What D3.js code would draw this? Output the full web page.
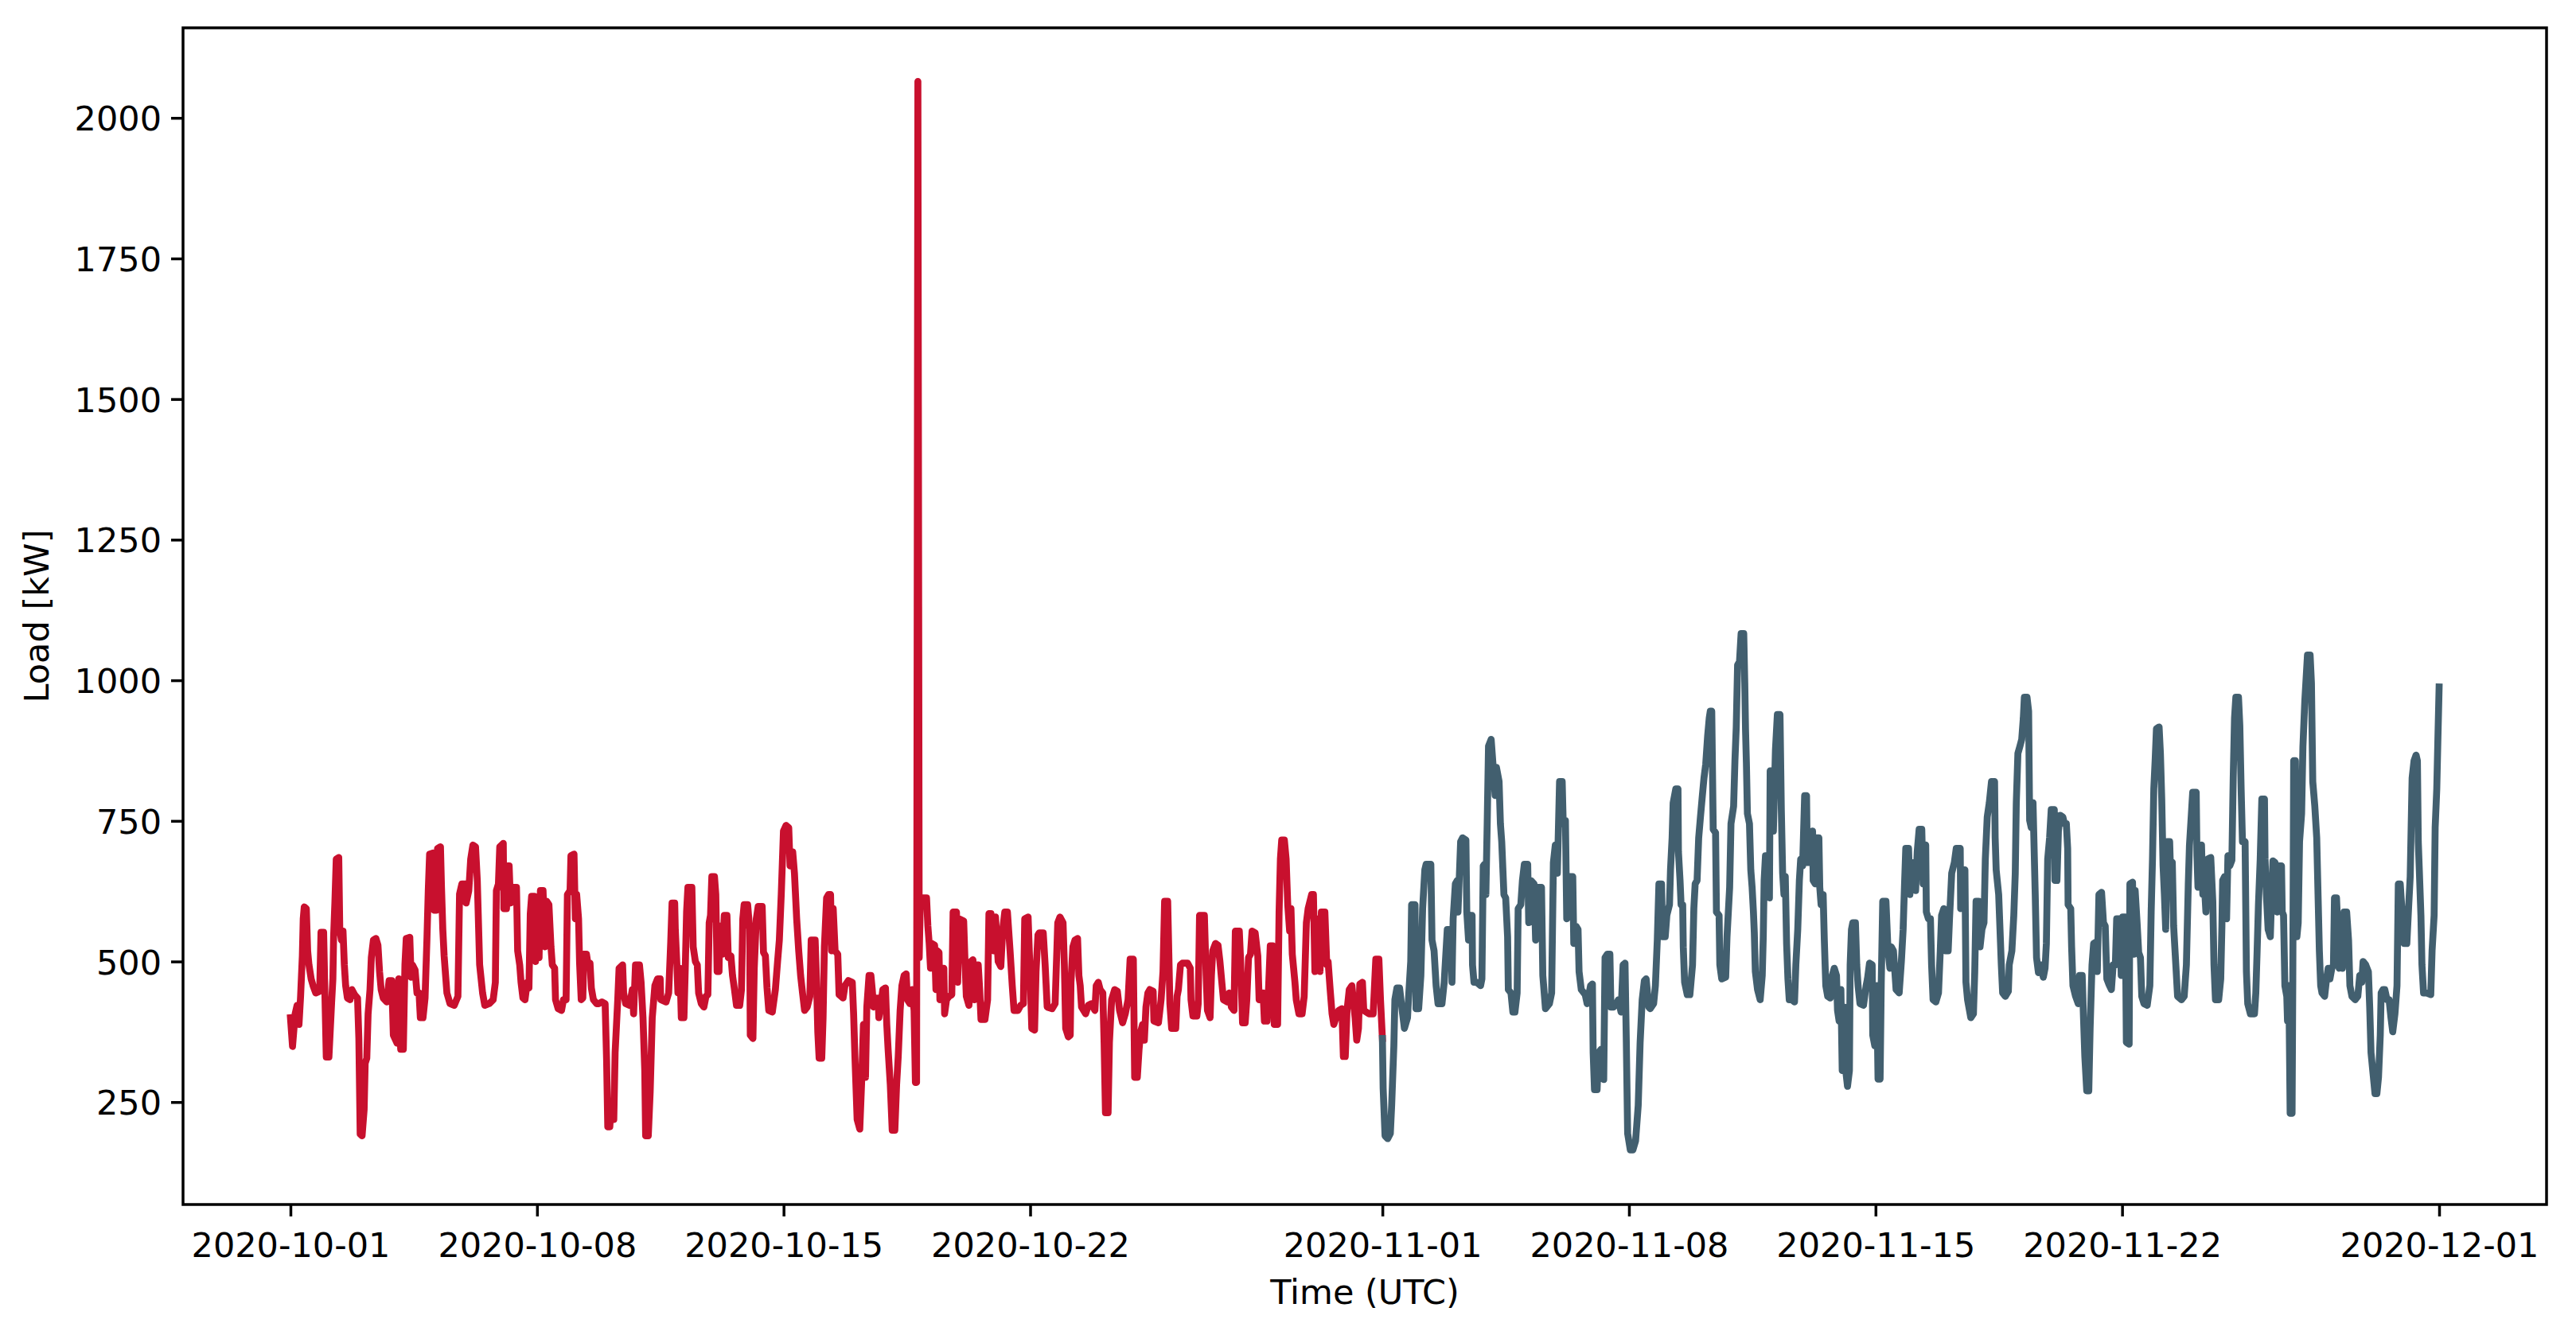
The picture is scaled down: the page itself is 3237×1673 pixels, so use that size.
<!DOCTYPE html>
<html><head><meta charset="utf-8">
<script src="https://cdn.jsdelivr.net/npm/d3@7"></script>
<style>
body{margin:0;background:#fff}
svg text{font-family:"DejaVu Sans",sans-serif;fill:#000}
</style>
</head><body>
<svg id="chart" width="3237" height="1673"></svg>
<script>
// Hours since 2020-10-01T00:00Z and load [kW]
const octHours = [0,1.4,3.2,4.5,5.8,6.9,8.1,8.7,9.4,10.8,11.7,12.6,14.1,15.4,17.2,19.9,20.8,22.6,23.5,24.4,26.2,28.0,28.9,29.4,30.3,31.2,32.9,33.6,34.7,35.8,36.7,37.6,38.8,40.6,41.9,43.7,45.7,46.6,47.5,48.8,50.2,50.9,52.0,52.9,54.2,55.1,56.5,58.2,59.6,60.7,61.8,63.2,65.6,67.2,69.0,70.1,72.6,73.7,75.1,76.9,78.0,78.9,81.3,82.2,83.1,84.9,86.2,87.6,88.5,90.3,91.7,93.0,93.9,94.8,97.2,97.9,99.3,100.2,102.2,102.9,103.8,104.7,106.6,108.7,111.6,114.1,115.2,116.8,119.2,119.7,121.5,122.8,124.3,126.1,127.3,128.9,130.9,132.4,135.4,138.1,139.6,140.3,141.7,142.6,145.0,145.4,147.2,148.1,149.0,149.9,151.7,154.0,154.8,156.2,157.1,158.4,159.8,161.3,162.5,163.4,164.3,166.1,167.0,168.5,169.4,170.3,172.1,173.4,174.6,176.1,177.5,178.4,180.0,180.6,182.4,184.7,186.0,187.8,188.7,190.5,191.1,193.2,194.1,195.0,196.3,197.0,198.1,199.2,199.9,201.7,202.8,204.1,205.0,206.4,208.6,210.0,212.2,214.4,215.4,216.2,217.6,218.5,220.3,221.2,223.0,223.9,226.3,227.0,228.4,231.1,232.9,233.8,235.1,237.8,238.9,240.2,241.4,242.0,243.8,245.1,246.5,248.3,250.1,251.9,252.3,255.9,257.7,259.1,260.0,261.8,262.2,263.3,264.0,265.4,266.3,268.1,269.0,269.9,270.8,273.5,274.4,275.9,277.2,278.1,279.9,281.7,283.1,284.4,285.3,286.2,287.1,288.9,289.8,290.7,292.0,292.5,294.3,295.6,297.4,298.3,300.1,301.2,302.4,303.9,306.1,307.3,308.2,309.1,311.5,312.9,313.3,315.1,316.0,317.4,318.7,321.4,322.3,323.6,324.7,325.9,328.3,330.4,331.9,333.1,334.4,335.9,337.7,339.5,340.4,342.2,343.4,344.9,346.3,347.6,348.9,350.3,352.1,353.9,354.8,357.5,358.4,359.3,360.2,362.0,362.9,363.8,365.3,366.6,368.0,368.7,369.8,371.1,372.9,373.8,376.5,377.8,380.1,382.8,383.7,384.6,386.1,387.9,389.1,390.4,391.8,392.7,394.2,395.5,396.4,397.3,399.1,400.4,400.9,402.7,403.6,405.4,406.3,407.2,408.7,410.0,411.8,413.0,414.1,415.4,416.6,418.1,419.5,420.4,422.1,423.5,424.9,425.8,426.6,427.5,428.4,429.2,433.4,434.3,435.2,436.1,437.0,438.9,439.8,440.7,441.9,442.5,443.7,445.2,445.7,447.0,448.8,450.6,451.5,453.8,454.6,455.6,458.7,459.6,460.5,462.3,463.6,465.0,465.9,467.8,468.6,469.6,470.5,473.2,475.0,475.9,477.3,479.1,480.4,482.2,484.0,485.3,486.7,488.5,490.3,491.8,493.0,495.7,497.5,499.4,500.3,502.6,503.9,505.1,507.0,508.0,509.3,510.2,512.9,514.2,515.6,518.9,521.0,522.8,524.3,526.4,527.3,528.2,530.0,531.3,531.8,533.1,534.5,536.3,537.2,538.1,539.0,541.8,543.6,545.7,548.1,549.0,550.4,551.7,553.5,554.4,555.3,557.1,558.0,559.5,561.6,563.4,564.9,567.0,568.8,570.7,572.1,574.3,575.2,577.0,578.2,579.3,580.6,581.8,582.9,584.2,585.5,587.8,588.3,591.4,593.2,594.5,595.6,597.7,599.2,600.4,603.2,604.1,605.0,606.4,607.7,611.3,613.1,613.6,614.9,617.6,618.5,619.4,622.7,623.9,624.8,626.6,627.5,628.4,630.3,632.0,633.3,634.8,635.7,638.4,639.6,641.1,642.9,643.8,646.5,647.4,648.7,650.5,651.6,652.8,654.1,655.2,657.3,659.1,660.0,661.5,662.7,663.6,665.4,666.3,667.6,669.4,670.3,672.6,673.6,674.5,675.4,677.2,678.4,679.5,680.8,681.7,682.6,684.4,685.3,687.1,689.3,690.7,692.2,693.4,695.8,697.0,698.0,700.1,701.5,702.4,704.8,706.1,707.0,708.4,709.7,710.9,712.4,714.2,716.4,717.4,718.7,719.9,721.4,723.2,725.4,726.5,727.7,728.6,730.4,731.3,734.9,737.7,739.5,741.6,742.7,744.0];
const octLoad = [400,349,407,422,388,438,510,576,597,594,519,494,469,457,444,447,552,552,438,330,330,425,469,544,607,682,685,557,538,554,494,457,435,432,450,441,435,363,193,190,237,319,328,407,450,507,538,541,529,482,450,435,428,466,466,369,355,469,344,344,494,541,543,472,494,485,444,444,400,400,435,541,626,691,693,591,591,701,704,632,557,510,444,425,422,438,620,638,638,604,626,682,707,704,644,494,444,422,425,432,463,626,638,704,710,594,594,670,670,604,632,632,519,494,463,435,432,463,453,585,616,616,500,557,507,626,626,526,607,601,526,494,488,432,416,413,432,432,619,626,688,691,576,619,576,497,432,435,513,513,494,497,453,432,425,425,428,425,325,206,206,250,219,338,432,488,494,444,425,422,450,407,494,494,463,400,306,190,190,269,400,457,469,469,432,428,444,535,604,604,557,494,444,488,400,400,488,588,632,632,526,500,494,444,425,419,438,441,569,582,651,651,619,482,482,563,513,582,582,507,510,475,453,422,422,450,576,601,601,557,369,363,488,576,598,598,516,510,453,413,410,450,500,538,619,732,742,738,670,695,657,576,519,475,444,413,419,438,538,538,469,375,328,328,400,526,613,619,619,519,594,519,513,441,435,457,466,463,407,331,219,202,281,388,294,419,475,475,450,419,435,435,400,432,450,453,388,344,281,200,200,281,331,413,457,475,478,432,425,450,413,285,285,2065,507,613,613,563,532,488,532,529,450,519,516,432,488,488,407,432,438,441,588,588,463,576,572,500,438,422,500,503,432,494,494,450,397,397,432,585,585,519,579,500,491,557,588,588,519,457,413,413,422,425,576,579,482,381,378,482,547,551,551,494,419,416,425,569,579,569,494,381,366,369,463,526,538,541,475,457,419,407,422,425,413,457,463,450,444,353,231,231,356,432,450,447,413,391,407,432,504,504,294,294,344,375,388,360,419,444,450,447,394,391,432,482,607,607,425,381,381,438,450,494,497,497,488,432,403,403,425,582,582,475,413,400,475,519,532,529,500,457,432,428,444,419,413,554,554,500,391,391,432,507,513,554,551,510,432,444,444,394,394,444,528,528,388,388,588,682,716,716,682,601,554,594,513,463,432,407,407,438,569,594,619,619,482,576,482,588,588,494,500,450,407,388,400,413,416,331,331,413,450,457,400,360,381,460,463,413,407,407,504,504,432,363];
const novHours = [744.0,744.5,745.8,747.6,749.4,750.3,751.8,752.5,753.9,755.7,757.2,759.0,761.1,762.0,763.3,763.9,766.2,766.9,768.7,770.2,771.4,772.9,773.8,777.0,777.8,779.2,780.6,781.9,784.6,786.1,788.2,790.9,791.4,792.2,793.7,795.0,795.5,797.3,798.6,800.9,801.5,802.7,803.6,805.1,805.4,806.4,808.2,810.9,811.8,812.7,813.6,814.5,815.4,816.3,818.1,819.5,820.8,821.7,823.5,824.4,825.3,826.8,828.0,829.3,829.8,831.6,832.9,834.3,835.8,836.5,838.3,839.4,840.7,843.0,843.7,845.2,847.3,848.4,849.7,852.4,853.3,855.1,857.8,859.3,860.5,861.8,863.2,864.7,866.5,867.2,868.7,869.6,870.8,871.9,873.7,874.4,875.9,877.3,878.0,879.5,882.2,883.5,884.9,885.8,887.1,887.6,888.5,890.3,891.2,893.0,894.8,895.7,897.2,899.0,899.7,901.5,903.3,904.8,906.6,908.0,909.3,910.2,911.1,912.9,914.7,916.5,918.3,919.6,921.0,922.5,923.7,925.5,926.4,928.8,930.0,931.3,932.4,934.2,934.9,936.7,937.8,939.6,940.3,941.4,942.1,943.9,945.4,945.7,946.8,947.5,948.6,949.0,949.9,951.7,953.5,955.3,956.2,957.1,958.4,959.5,960.7,962.0,963.1,964.3,965.6,966.7,967.4,968.4,969.4,971.0,971.6,973.4,973.9,975.2,977.9,978.8,980.6,981.5,983.3,984.2,985.1,986.0,987.3,988.4,990.2,990.9,991.4,992.0,992.7,994.1,995.0,995.9,996.8,997.4,998.1,999.6,1001.4,1002.8,1003.5,1004.1,1005.0,1006.4,1007.7,1008.2,1009.5,1010.4,1011.8,1013.1,1014.9,1015.8,1016.7,1017.6,1018.5,1019.4,1020.3,1021.2,1023.0,1024.8,1025.7,1027.0,1028.1,1029.0,1030.3,1031.7,1033.0,1033.5,1034.8,1035.7,1037.1,1037.5,1038.9,1039.6,1041.4,1042.0,1042.9,1044.3,1045.1,1046.1,1047.4,1049.2,1050.5,1051.9,1053.4,1054.1,1055.2,1056.4,1057.3,1058.6,1059.7,1060.9,1062.2,1062.7,1063.6,1064.5,1066.3,1067.2,1068.1,1069.4,1071.8,1073.6,1074.5,1075.9,1077.7,1078.1,1079.5,1080.8,1081.7,1083.1,1083.9,1084.9,1087.1,1088.5,1089.8,1090.7,1092.2,1094.0,1096.1,1097.6,1098.8,1099.7,1100.6,1102.5,1103.4,1104.8,1106.1,1107.3,1108.4,1109.7,1111.5,1112.4,1113.3,1114.2,1114.6,1116.0,1117.4,1118.2,1119.2,1121.1,1122.9,1124.1,1125.0,1126.5,1127.7,1129.5,1130.4,1131.9,1133.7,1135.0,1137.7,1138.0,1139.5,1140.9,1141.6,1142.7,1144.9,1146.7,1147.6,1148.5,1150.3,1151.2,1152.5,1153.9,1154.8,1156.1,1157.5,1159.0,1161.1,1161.5,1162.2,1163.9,1164.8,1165.7,1166.6,1168.4,1170.5,1171.1,1172.9,1174.2,1175.2,1175.9,1177.0,1178.3,1179.6,1180.7,1181.4,1183.2,1184.3,1185.0,1186.1,1187.3,1188.8,1189.7,1191.0,1192.5,1194.3,1195.5,1196.4,1197.3,1198.6,1199.7,1201.8,1202.2,1203.6,1204.6,1205.8,1207.6,1208.7,1210.0,1210.9,1211.2,1213.0,1213.6,1214.5,1216.3,1218.1,1219.0,1220.8,1221.7,1222.6,1223.9,1225.3,1226.2,1227.5,1228.6,1230.4,1231.1,1232.2,1234.0,1235.3,1236.5,1237.6,1238.9,1240.7,1241.9,1243.4,1244.3,1246.6,1247.4,1248.4,1250.2,1250.9,1252.8,1253.3,1255.1,1256.0,1256.9,1258.2,1259.3,1260.5,1261.4,1262.9,1265.1,1266.9,1267.8,1268.7,1269.6,1270.5,1271.4,1273.2,1274.1,1275.0,1275.9,1276.8,1277.7,1278.6,1280.4,1281.3,1282.2,1283.1,1284.6,1285.8,1288.5,1290.3,1291.8,1293.1,1293.9,1294.8,1296.1,1298.5,1299.0,1299.7,1300.8,1302.1,1303.0,1303.9,1305.1,1306.2,1308.4,1309.8,1310.6,1311.6,1313.8,1315.2,1316.0,1316.5,1317.8,1319.2,1320.1,1321.4,1322.8,1323.7,1324.6,1325.5,1327.3,1328.2,1329.1,1330.0,1331.8,1332.7,1333.6,1335.4,1338.2,1339.1,1340.0,1340.9,1342.1,1343.2,1345.0,1345.4,1346.3,1347.5,1349.0,1349.9,1350.8,1352.2,1353.5,1354.4,1356.6,1357.1,1358.0,1358.9,1360.2,1360.7,1361.6,1362.5,1363.8,1364.3,1364.9,1366.1,1367.1,1368.0,1368.9,1370.3,1371.2,1372.5,1374.3,1376.1,1377.0,1377.9,1379.3,1380.6,1381.5,1382.4,1383.3,1384.2,1386.0,1387.3,1388.4,1389.6,1390.9,1392.0,1392.7,1394.1,1395.0,1395.9,1397.4,1398.1,1399.2,1401.0,1402.3,1403.2,1404.6,1406.8,1408.6,1409.9,1411.3,1412.2,1414.0,1415.8,1416.7,1417.6,1419.0,1420.3,1421.6,1422.7,1423.9,1424.5,1425.7,1427.0,1428.5,1429.9,1431.2,1432.4,1433.9,1435.3,1436.2,1437.5,1438.9,1440.2,1442.0,1443.3,1444.3,1445.6,1446.9,1448.3,1449.2,1449.8,1450.5,1451.6,1452.3,1453.4,1455.5,1458.3,1459.2,1460.6,1461.3,1462.4,1463.2,1464.0];
const novLoad = [363,275,190,185,194,244,350,432,453,453,419,381,400,444,500,601,601,416,416,475,594,663,673,673,538,519,457,425,425,463,557,557,463,576,638,644,588,713,720,716,588,538,582,582,494,463,463,457,469,670,673,619,745,883,895,845,795,845,820,745,713,619,613,544,450,444,410,410,444,594,601,644,673,673,569,644,638,538,632,632,475,416,425,444,676,707,657,820,820,745,751,576,626,651,651,532,563,557,482,450,441,425,444,457,460,338,272,272,338,344,290,507,513,513,419,419,425,432,410,494,497,356,194,165,165,181,244,356,432,466,469,419,416,425,457,538,638,638,544,544,582,601,663,720,782,807,807,695,644,601,601,526,463,441,441,494,594,638,644,720,757,795,826,851,901,933,945,945,735,729,588,582,494,469,472,544,632,745,776,857,917,1027,1033,1083,1083,995,914,854,763,745,663,632,588,551,482,450,432,475,544,644,688,688,613,839,839,732,876,939,939,770,657,619,651,532,469,432,432,428,494,557,644,682,670,795,795,676,676,726,732,644,638,720,720,632,601,619,538,457,438,435,475,488,475,413,394,450,306,419,306,278,306,494,557,569,569,494,457,425,422,457,469,497,494,369,350,457,291,291,463,607,607,519,488,526,519,450,444,500,557,632,701,701,619,673,676,626,695,735,735,638,707,707,588,576,576,494,432,428,444,519,582,594,519,519,576,657,676,701,701,594,663,663,463,432,400,407,482,607,607,526,557,569,682,757,782,820,820,720,663,619,557,494,444,438,447,494,519,582,657,782,870,882,895,933,970,970,945,751,738,782,620,507,480,494,472,488,532,682,720,770,770,644,644,732,760,757,745,745,701,601,594,526,457,438,425,475,475,400,331,270,270,381,494,532,535,482,619,623,569,563,469,460,450,494,494,576,576,475,579,579,356,353,638,641,513,626,569,516,507,438,425,422,457,588,682,807,857,914,917,870,789,670,619,557,713,713,632,676,563,494,438,432,438,494,638,707,745,801,801,688,632,695,707,619,644,588,682,685,607,494,432,432,469,563,644,651,576,688,670,680,826,933,970,970,920,807,713,713,482,425,407,407,444,519,601,682,789,789,682,619,557,544,619,679,676,588,670,670,588,582,457,438,394,457,230,230,469,857,857,544,569,713,763,882,964,1045,1045,995,820,776,720,619,519,457,444,438,469,488,469,488,494,613,613,557,488,557,488,588,588,538,457,438,432,438,475,463,500,494,482,419,338,300,265,265,294,369,444,450,450,432,432,400,375,407,457,638,638,582,532,532,601,651,826,857,867,857,713,663,582,494,444,444,441,519,582,738,807,900,988];
const xTickDates = ["2020-10-01","2020-10-08","2020-10-15","2020-10-22","2020-11-01","2020-11-08","2020-11-15","2020-11-22","2020-12-01"];
const yTickValues = [250,500,750,1000,1250,1500,1750,2000];
const seriesColors = {oct:"#c8102e", nov:"#425f6f"};

const svg = d3.select("#chart");
const W = 3237, H = 1673;
const M = {left:230, right:3200, top:35, bottom:1514};
const base = Date.UTC(2020,9,1);
const HOUR = 3600e3, DAY = 24*HOUR;
const toDate = h => new Date(base + h*HOUR);

const t0 = base, t1 = Date.UTC(2020,11,1);
const pad = (t1 - t0)*0.05;
const x = d3.scaleUtc().domain([new Date(t0 - pad), new Date(t1 + pad)]).range([M.left, M.right]);
const yMin = 163, yMax = 2065, ypad = (yMax - yMin)*0.05;
const y = d3.scaleLinear().domain([yMin - ypad, yMax + ypad]).range([M.bottom, M.top]);

const FS = 43;
const line = d3.line().x(d => x(d[0])).y(d => y(d[1]));
const oct = octHours.map((h,i) => [toDate(h), octLoad[i]]);
const nov = novHours.map((h,i) => [toDate(h), novLoad[i]]);

svg.append("defs").append("clipPath").attr("id","clip")
  .append("rect").attr("x",M.left).attr("y",M.top).attr("width",M.right-M.left).attr("height",M.bottom-M.top);

const g = svg.append("g").attr("clip-path","url(#clip)");
g.append("path").datum(oct).attr("d",line).attr("fill","none")
  .attr("stroke",seriesColors.oct).attr("stroke-width",8.7).attr("stroke-linejoin","round").attr("stroke-linecap","square");
g.append("path").datum(nov).attr("d",line).attr("fill","none")
  .attr("stroke",seriesColors.nov).attr("stroke-width",8.7).attr("stroke-linejoin","round").attr("stroke-linecap","square");

// axes
const xAxis = d3.axisBottom(x)
  .tickValues(xTickDates.map(s => new Date(s + "T00:00:00Z")))
  .tickFormat(d3.utcFormat("%Y-%m-%d"))
  .tickSize(15).tickPadding(20);
const gx = svg.append("g").attr("transform",`translate(0,${M.bottom})`).call(xAxis);
gx.select(".domain").remove();
gx.selectAll(".tick line").attr("stroke","#000").attr("stroke-width",3.5);
gx.selectAll(".tick text").attr("font-size",FS).attr("font-family","DejaVu Sans").attr("fill","#000");

const yAxis = d3.axisLeft(y).tickValues(yTickValues).tickFormat(d3.format("d")).tickSize(15).tickPadding(12);
const gy = svg.append("g").attr("transform",`translate(${M.left},0)`).call(yAxis);
gy.select(".domain").remove();
gy.selectAll(".tick line").attr("stroke","#000").attr("stroke-width",3.5);
gy.selectAll(".tick text").attr("font-size",FS).attr("font-family","DejaVu Sans").attr("fill","#000")
  .attr("dy","0.36em");

// spines
svg.append("rect").attr("x",M.left).attr("y",M.top).attr("width",M.right-M.left).attr("height",M.bottom-M.top)
  .attr("fill","none").attr("stroke","#000").attr("stroke-width",3.5);

// labels
svg.append("text").attr("x",(M.left+M.right)/2).attr("y",1639).attr("text-anchor","middle")
  .attr("font-size",FS).text("Time (UTC)");
svg.append("text").attr("transform",`translate(61,${(M.top+M.bottom)/2}) rotate(-90)`).attr("text-anchor","middle")
  .attr("font-size",FS).text("Load [kW]");
</script>
</body></html>
